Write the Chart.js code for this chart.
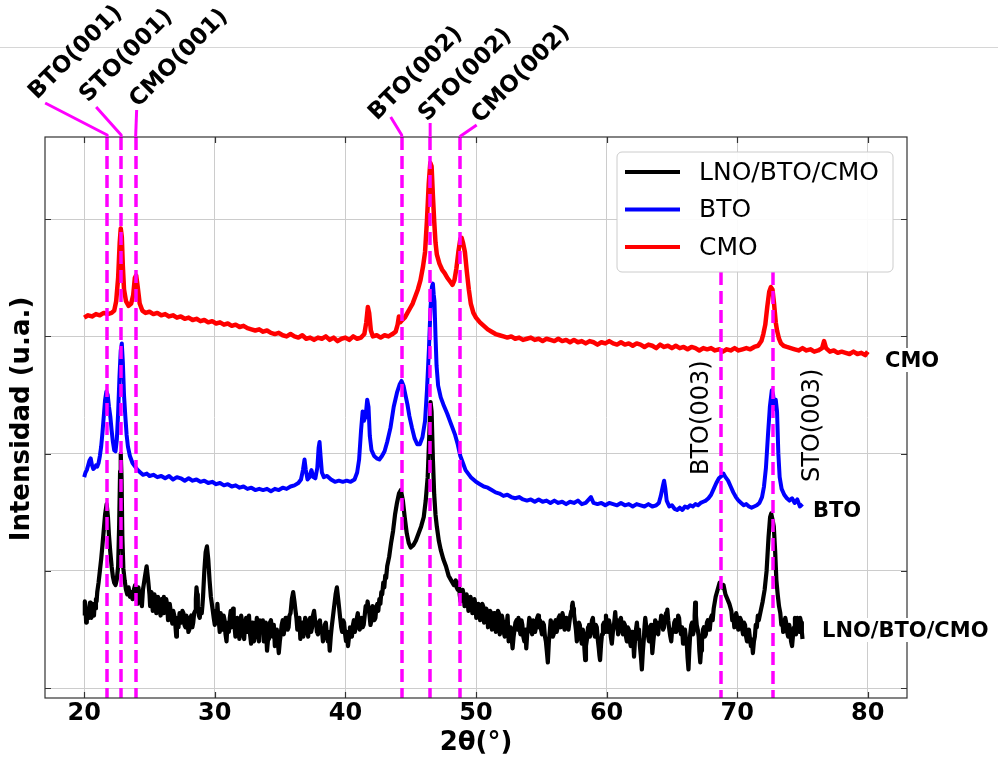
<!DOCTYPE html>
<html>
<head>
<meta charset="utf-8">
<script src="https://cdn.jsdelivr.net/npm/chart.js@4.4.1/dist/chart.umd.min.js"></script>
<style>
  html, body { margin: 0; padding: 0; background: #ffffff; }
  canvas { display: block; }
</style>
</head>
<body>
<canvas id="xrd" width="998" height="760"></canvas>
<script>
// Diffraction patterns: [2θ (deg), intensity (offset, arbitrary units)]
const lnoBtoCmo = [
  [20.0,62],[20.05,74],[20.1,70],[20.15,56],[20.2,58],[20.25,68],[20.3,66],[20.38,60],[20.45,73],[20.5,64],
  [20.55,60],[20.62,72],[20.7,66],[20.75,62],[20.8,72],[20.85,68],[20.9,76],[20.95,74],[21.0,82],
  [21.1,90],[21.2,100],[21.3,110],[21.4,122],[21.5,135],[21.6,148],[21.72,157],[21.82,146],[21.9,130],[22.0,116],
  [22.1,104],[22.2,95],[22.3,90],[22.4,88],[22.5,93],[22.6,104],[22.68,140],[22.75,185],[22.8,200],[22.86,180],
  [22.92,130],[23.0,102],[23.1,92],[23.2,84],[23.3,80],[23.4,86],[23.5,78],[23.6,82],[23.7,76],[23.8,84],
  [23.9,88],[24.0,80],[24.05,72],[24.1,76],[24.15,86],[24.2,82],[24.28,74],[24.35,78],[24.42,70],[24.5,84],
  [24.65,95],[24.78,104],[24.9,92],[25.0,80],[25.05,70],[25.1,74],[25.15,82],[25.2,80],[25.25,66],[25.3,70],
  [25.38,80],[25.45,76],[25.52,64],[25.6,68],[25.65,78],[25.7,74],[25.78,66],[25.85,62],[25.92,76],[26.0,72],
  [26.05,64],[26.1,78],[26.15,70],[26.2,66],[26.28,76],[26.35,72],[26.42,58],[26.5,62],[26.55,72],[26.6,68],
  [26.68,60],[26.75,55],[26.82,66],[26.9,62],[26.98,54],[27.05,44],[27.1,56],[27.15,60],[27.22,52],[27.3,64],
  [27.38,58],[27.45,56],[27.52,66],[27.6,64],[27.68,54],[27.75,52],[27.82,62],[27.9,58],[27.98,48],[28.05,50],
  [28.12,60],[28.2,62],[28.28,52],[28.35,56],[28.42,64],[28.5,66],[28.55,76],[28.6,86],[28.65,80],[28.7,70],
  [28.78,62],[28.85,60],[28.92,68],[29.0,64],[29.05,70],[29.1,78],[29.2,100],[29.3,116],[29.4,121],[29.5,110],
  [29.6,92],[29.7,78],[29.85,66],[29.92,60],[30.0,54],[30.05,66],[30.1,62],[30.15,56],[30.2,72],[30.25,64],
  [30.3,58],[30.38,48],[30.45,64],[30.52,56],[30.6,50],[30.68,62],[30.75,58],[30.82,46],[30.9,40],[30.95,50],
  [31.0,56],[31.08,48],[31.15,60],[31.22,66],[31.3,52],[31.35,58],[31.4,68],[31.45,60],[31.5,54],[31.58,44],
  [31.65,48],[31.72,60],[31.8,58],[31.88,42],[31.95,48],[32.02,62],[32.1,56],[32.18,46],[32.25,42],[32.32,54],
  [32.4,60],[32.48,48],[32.55,54],[32.62,62],[32.7,46],[32.78,38],[32.85,56],[32.92,50],[33.0,40],[33.08,48],
  [33.15,52],[33.22,60],[33.3,46],[33.38,40],[33.45,58],[33.52,52],[33.6,50],[33.68,58],[33.75,40],[33.82,48],
  [33.9,56],[33.95,44],[34.0,32],[34.08,42],[34.15,48],[34.22,56],[34.3,58],[34.38,50],[34.45,44],[34.52,54],
  [34.6,36],[34.68,44],[34.75,50],[34.82,40],[34.9,30],[34.98,40],[35.05,46],[35.12,54],[35.2,58],[35.28,46],
  [35.35,52],[35.42,60],[35.5,60],[35.58,50],[35.65,52],[35.72,62],[35.8,64],[35.9,76],[36.0,82],[36.1,74],
  [36.18,66],[36.25,60],[36.32,50],[36.4,52],[36.48,60],[36.55,42],[36.62,50],[36.7,56],[36.78,44],[36.85,48],
  [36.92,60],[37.0,58],[37.08,50],[37.15,44],[37.22,54],[37.3,60],[37.38,48],[37.45,52],[37.52,62],[37.6,66],
  [37.68,58],[37.75,56],[37.82,48],[37.9,46],[37.98,54],[38.05,58],[38.12,48],[38.2,50],[38.28,40],[38.35,44],
  [38.42,54],[38.5,56],[38.58,46],[38.65,40],[38.72,48],[38.8,32],[38.88,44],[38.95,52],[39.1,66],[39.25,80],
  [39.35,86],[39.45,76],[39.6,60],[39.68,52],[39.75,48],[39.82,58],[39.9,56],[39.98,46],[40.05,40],[40.12,48],
  [40.2,36],[40.28,44],[40.35,52],[40.42,46],[40.5,44],[40.58,54],[40.65,58],[40.72,48],[40.8,52],[40.88,60],
  [40.95,64],[41.02,56],[41.1,50],[41.18,58],[41.25,60],[41.32,52],[41.4,54],[41.48,62],[41.55,70],[41.62,66],
  [41.7,74],[41.78,68],[41.85,62],[41.92,54],[42.0,58],[42.08,70],[42.15,66],[42.22,58],[42.3,60],[42.38,70],
  [42.45,72],[42.52,66],[42.6,76],[42.68,72],[42.75,82],[42.82,80],[42.9,90],[42.98,86],[43.05,96],[43.12,94],
  [43.2,104],[43.35,112],[43.5,124],[43.65,134],[43.8,148],[43.95,158],[44.1,166],[44.25,169],[44.4,160],[44.55,145],
  [44.7,132],[44.85,124],[45.0,120],[45.2,122],[45.4,126],[45.6,132],[45.8,138],[46.0,146],[46.15,160],[46.3,180],
  [46.42,215],[46.52,244],[46.6,236],[46.7,195],[46.8,165],[46.9,148],[47.0,138],[47.15,126],[47.3,118],[47.5,110],
  [47.7,104],[47.9,96],[48.1,92],[48.3,88],[48.45,92],[48.52,86],[48.6,84],[48.68,90],[48.75,80],[48.82,74],
  [48.9,76],[48.98,84],[49.05,80],[49.12,70],[49.2,72],[49.28,80],[49.35,76],[49.42,66],[49.5,70],[49.58,78],
  [49.65,74],[49.72,64],[49.8,68],[49.88,76],[49.95,72],[50.02,60],[50.1,62],[50.18,72],[50.25,68],[50.32,58],
  [50.4,64],[50.48,72],[50.55,70],[50.62,56],[50.7,60],[50.78,68],[50.85,66],[50.92,52],[51.0,58],[51.08,66],
  [51.15,64],[51.22,50],[51.3,54],[51.38,64],[51.45,62],[51.52,48],[51.6,56],[51.68,66],[51.75,64],[51.82,46],
  [51.9,50],[51.98,62],[52.05,58],[52.12,48],[52.2,44],[52.28,56],[52.35,54],[52.42,62],[52.5,40],[52.58,48],
  [52.65,52],[52.72,44],[52.8,34],[52.88,44],[52.95,50],[53.02,56],[53.1,58],[53.18,50],[53.25,60],[53.32,52],
  [53.4,46],[53.48,58],[53.55,54],[53.62,44],[53.7,40],[53.78,50],[53.85,34],[53.92,46],[54.0,50],[54.08,60],
  [54.15,58],[54.22,50],[54.3,46],[54.38,58],[54.45,56],[54.52,48],[54.6,52],[54.68,60],[54.75,62],[54.82,52],
  [54.9,58],[54.98,50],[55.05,46],[55.12,56],[55.2,54],[55.28,44],[55.35,40],[55.42,32],[55.5,22],[55.58,40],
  [55.65,48],[55.72,58],[55.8,54],[55.88,44],[55.95,46],[56.02,56],[56.1,58],[56.18,48],[56.25,52],[56.32,60],
  [56.4,62],[56.48,52],[56.55,56],[56.62,64],[56.7,60],[56.78,50],[56.85,52],[56.92,60],[57.0,58],[57.08,50],
  [57.15,56],[57.22,62],[57.3,66],[57.35,70],[57.4,73],[57.45,68],[57.5,64],[57.58,56],[57.65,50],[57.72,40],
  [57.8,44],[57.88,56],[57.95,54],[58.02,44],[58.1,38],[58.18,50],[58.25,46],[58.3,34],[58.36,24],[58.42,36],
  [58.5,42],[58.58,52],[58.65,54],[58.72,44],[58.8,50],[58.88,58],[58.95,60],[59.02,50],[59.1,44],[59.18,54],
  [59.25,52],[59.32,42],[59.4,34],[59.45,28],[59.5,24],[59.58,38],[59.65,46],[59.72,54],[59.8,56],[59.88,48],
  [59.95,62],[60.02,54],[60.1,48],[60.18,58],[60.25,54],[60.32,44],[60.4,38],[60.48,48],[60.55,52],[60.6,58],
  [60.66,65],[60.72,56],[60.8,58],[60.88,46],[60.95,50],[61.02,58],[61.1,60],[61.18,50],[61.25,46],[61.32,56],
  [61.4,54],[61.48,44],[61.55,40],[61.62,52],[61.7,50],[61.78,40],[61.85,36],[61.92,48],[62.0,48],[62.05,38],
  [62.1,27],[62.18,42],[62.25,50],[62.32,56],[62.4,44],[62.48,50],[62.55,36],[62.62,28],[62.7,16],[62.78,32],
  [62.85,42],[62.9,52],[62.96,60],[63.02,54],[63.1,52],[63.18,44],[63.25,40],[63.32,50],[63.4,54],[63.45,42],
  [63.5,30],[63.58,40],[63.65,48],[63.72,58],[63.8,56],[63.88,48],[63.95,46],[64.02,56],[64.1,54],[64.18,62],
  [64.25,60],[64.32,50],[64.4,52],[64.48,60],[64.55,64],[64.6,62],[64.65,67],[64.72,58],[64.8,50],[64.88,44],
  [64.95,40],[65.02,50],[65.1,48],[65.18,56],[65.25,58],[65.32,48],[65.4,52],[65.48,62],[65.55,60],[65.62,50],
  [65.7,46],[65.78,52],[65.85,38],[65.92,46],[66.0,50],[66.08,42],[66.15,36],[66.2,26],[66.27,16],[66.33,32],
  [66.4,46],[66.48,54],[66.55,56],[66.62,46],[66.7,50],[66.74,62],[66.78,73],[66.84,62],[66.9,54],[66.98,50],
  [67.05,44],[67.1,32],[67.17,22],[67.23,32],[67.3,40],[67.38,50],[67.45,52],[67.52,44],[67.6,46],[67.68,56],
  [67.75,58],[67.82,50],[67.9,50],[67.98,60],[68.05,62],[68.12,58],[68.2,68],[68.35,78],[68.5,84],[68.65,90],
  [68.8,86],[68.95,88],[69.1,80],[69.25,76],[69.4,72],[69.55,66],[69.62,58],[69.7,62],[69.78,52],[69.85,56],
  [69.92,64],[70.0,60],[70.08,50],[70.15,52],[70.22,60],[70.3,58],[70.38,50],[70.45,46],[70.52,56],[70.6,54],
  [70.68,44],[70.75,40],[70.82,48],[70.9,50],[70.98,42],[71.05,36],[71.12,40],[71.2,30],[71.28,40],[71.35,44],
  [71.42,54],[71.5,52],[71.58,62],[71.65,58],[71.8,66],[71.95,74],[72.1,84],[72.25,100],[72.4,129],[72.52,146],
  [72.6,149],[72.7,144],[72.8,138],[72.9,118],[73.0,92],[73.1,80],[73.2,70],[73.3,64],[73.38,54],[73.45,58],
  [73.52,48],[73.6,50],[73.68,60],[73.75,56],[73.82,48],[73.9,44],[73.98,54],[74.05,50],[74.12,40],[74.2,36],
  [74.28,46],[74.35,52],[74.42,60],[74.5,46],[74.55,54],[74.6,60],[74.68,52],[74.75,48],[74.82,60],[74.9,56],
  [74.95,48],[75.0,42]
];

const bto = [
  [20.0,180],[20.1,184],[20.2,186],[20.3,190],[20.4,194],[20.5,196],[20.6,190],[20.7,187],[20.8,188],[20.9,190],
  [21.0,189],[21.1,192],[21.2,198],[21.3,206],[21.4,218],[21.5,232],[21.6,246],[21.7,253],[21.8,250],[21.9,240],
  [22.0,232],[22.1,220],[22.2,210],[22.3,203],[22.4,202],[22.5,212],[22.6,235],[22.7,265],[22.8,288],[22.88,294],
  [22.96,278],[23.05,250],[23.15,232],[23.25,216],[23.35,206],[23.5,198],[23.7,192],[23.9,189],[24.1,186],[24.3,184],
  [24.5,182],[24.8,183],[25.0,181],[25.3,182],[25.6,180],[25.9,181],[26.2,179],[26.5,181],[26.8,178],[27.1,180],
  [27.4,179],[27.7,177],[28.0,179],[28.3,177],[28.6,178],[28.9,176],[29.2,177],[29.5,175],[29.8,176],[30.1,174],
  [30.4,175],[30.7,173],[31.0,174],[31.3,172],[31.6,173],[31.9,171],[32.2,172],[32.5,170],[32.8,171],[33.1,169],
  [33.4,170],[33.7,169],[34.0,170],[34.3,168],[34.6,170],[34.9,169],[35.2,171],[35.5,170],[35.8,172],[36.1,173],
  [36.4,175],[36.6,178],[36.75,186],[36.87,195],[36.97,186],[37.1,178],[37.25,180],[37.4,186],[37.55,180],[37.7,179],
  [37.85,188],[37.95,205],[38.02,210],[38.1,198],[38.2,184],[38.35,180],[38.6,181],[38.9,178],[39.2,176],[39.5,177],
  [39.8,176],[40.1,177],[40.4,176],[40.7,178],[40.9,184],[41.05,195],[41.2,220],[41.32,236],[41.42,228],[41.55,232],
  [41.67,246],[41.77,240],[41.87,215],[42.0,203],[42.2,198],[42.4,196],[42.6,195],[42.8,198],[43.0,202],[43.2,210],
  [43.45,222],[43.7,240],[43.95,252],[44.15,259],[44.3,262],[44.45,258],[44.6,250],[44.75,242],[44.9,232],[45.1,222],
  [45.3,213],[45.5,208],[45.7,208],[45.9,214],[46.1,228],[46.25,255],[46.4,290],[46.52,325],[46.62,342],[46.7,345],
  [46.76,336],[46.82,330],[46.9,300],[46.98,275],[47.1,258],[47.3,248],[47.5,242],[47.8,234],[48.0,228],[48.2,222],
  [48.4,216],[48.6,208],[48.8,198],[49.0,192],[49.2,186],[49.4,183],[49.6,180],[49.8,178],[50.0,176],[50.3,174],
  [50.6,172],[50.9,171],[51.2,169],[51.5,167],[51.8,166],[52.1,164],[52.4,165],[52.7,163],[53.0,162],[53.3,163],
  [53.6,161],[53.9,160],[54.2,161],[54.5,159],[54.8,161],[55.1,159],[55.4,160],[55.7,158],[56.0,160],[56.3,158],
  [56.6,159],[56.9,157],[57.2,159],[57.5,158],[57.8,160],[58.1,157],[58.4,158],[58.8,163],[59.0,158],[59.3,157],
  [59.6,158],[59.9,156],[60.2,158],[60.5,157],[60.8,156],[61.1,158],[61.4,156],[61.7,157],[62.0,155],[62.3,157],
  [62.6,156],[62.9,155],[63.2,157],[63.5,155],[63.8,156],[64.0,158],[64.15,164],[64.3,172],[64.4,177],[64.5,170],
  [64.6,160],[64.8,155],[65.0,156],[65.2,153],[65.4,152],[65.6,154],[65.8,152],[66.0,155],[66.2,154],[66.4,156],
  [66.6,155],[66.8,157],[67.0,156],[67.2,158],[67.4,159],[67.6,160],[67.8,162],[68.0,165],[68.2,170],[68.4,175],
  [68.6,179],[68.8,181],[68.95,183],[69.1,180],[69.3,177],[69.5,172],[69.7,167],[69.9,163],[70.1,160],[70.3,158],
  [70.5,156],[70.7,157],[70.9,155],[71.1,154],[71.3,155],[71.5,156],[71.7,158],[71.9,163],[72.05,172],[72.2,188],
  [72.35,215],[72.5,240],[72.65,254],[72.75,250],[72.85,238],[72.95,246],[73.05,236],[73.15,200],[73.25,180],[73.4,170],
  [73.6,165],[73.8,162],[74.0,160],[74.2,162],[74.4,158],[74.6,161],[74.8,155],[75.0,157]
];

const cmo = [
  [20.0,316],[20.3,318],[20.6,317],[20.9,319],[21.2,318],[21.5,320],[21.8,319],[22.1,320],[22.3,322],[22.45,330],
  [22.6,350],[22.72,380],[22.8,392],[22.88,385],[22.96,360],[23.05,340],[23.2,330],[23.4,326],[23.6,328],[23.75,335],
  [23.88,350],[23.98,352],[24.1,342],[24.25,328],[24.45,322],[24.7,320],[25.0,321],[25.3,319],[25.6,320],[25.9,318],
  [26.2,319],[26.5,317],[26.8,318],[27.1,316],[27.4,317],[27.7,315],[28.0,316],[28.3,314],[28.6,315],[28.9,313],
  [29.2,314],[29.5,312],[29.8,313],[30.1,311],[30.4,312],[30.7,310],[31.0,311],[31.3,309],[31.6,310],[31.9,308],
  [32.2,309],[32.5,307],[32.8,306],[33.1,305],[33.4,306],[33.7,304],[34.0,305],[34.3,303],[34.6,302],[34.9,303],
  [35.2,301],[35.5,300],[35.8,302],[36.1,300],[36.4,299],[36.7,301],[37.0,298],[37.3,299],[37.6,297],[37.9,299],
  [38.2,298],[38.5,300],[38.8,297],[39.1,299],[39.4,296],[39.7,298],[40.0,299],[40.3,297],[40.6,300],[40.9,298],
  [41.2,299],[41.45,302],[41.6,312],[41.72,325],[41.82,320],[41.95,305],[42.1,300],[42.4,301],[42.7,299],[43.0,301],
  [43.3,300],[43.6,302],[43.85,304],[44.0,310],[44.1,317],[44.2,312],[44.35,314],[44.55,316],[44.75,320],[44.95,324],
  [45.15,328],[45.35,334],[45.55,340],[45.75,348],[45.95,360],[46.1,372],[46.25,400],[46.38,430],[46.5,448],[46.6,445],
  [46.7,420],[46.8,398],[46.9,380],[47.0,370],[47.2,362],[47.4,357],[47.6,354],[47.8,350],[48.0,347],[48.2,344],
  [48.35,348],[48.5,358],[48.65,372],[48.8,383],[48.9,384],[49.0,380],[49.15,372],[49.3,355],[49.45,340],[49.6,328],
  [49.8,320],[50.0,316],[50.3,312],[50.6,309],[50.9,306],[51.2,304],[51.5,302],[51.8,301],[52.1,300],[52.4,299],
  [52.7,300],[53.0,298],[53.3,299],[53.6,297],[53.9,298],[54.2,299],[54.5,297],[54.8,298],[55.1,296],[55.4,298],
  [55.7,297],[56.0,296],[56.3,298],[56.6,296],[56.9,297],[57.2,295],[57.5,297],[57.8,295],[58.1,296],[58.4,294],
  [58.7,296],[59.0,295],[59.3,293],[59.6,295],[59.9,294],[60.2,296],[60.5,294],[60.8,293],[61.1,295],[61.4,293],
  [61.7,294],[62.0,292],[62.3,294],[62.6,293],[62.9,291],[63.2,293],[63.5,292],[63.8,290],[64.1,293],[64.4,291],
  [64.7,292],[65.0,290],[65.3,292],[65.6,290],[65.9,291],[66.2,289],[66.5,291],[66.8,290],[67.1,288],[67.4,290],
  [67.7,289],[68.0,290],[68.3,288],[68.6,289],[68.9,287],[69.2,289],[69.5,288],[69.8,290],[70.1,288],[70.4,289],
  [70.7,290],[71.0,289],[71.3,291],[71.6,292],[71.85,296],[72.0,302],[72.15,310],[72.3,325],[72.45,338],[72.58,342],
  [72.7,340],[72.82,328],[72.95,312],[73.05,305],[73.2,298],[73.35,294],[73.55,292],[73.8,291],[74.1,290],[74.4,289],
  [74.7,288],[75.0,290],[75.3,288],[75.6,289],[75.9,287],[76.2,288],[76.5,290],[76.65,296],[76.8,290],[77.1,287],
  [77.4,288],[77.7,286],[78.0,287],[78.3,286],[78.6,285],[78.9,287],[79.2,285],[79.5,286],[79.8,284],[80.0,287]
];

const seriesNames = ['LNO/BTO/CMO', 'BTO', 'CMO'];
const seriesColors = ['#000000', '#0000ff', '#ff0000'];
const seriesWidths = [4.2, 4, 4.5];

// Reflection markers (2θ positions) and their labels
const reflectionNames = ['BTO(001)', 'STO(001)', 'CMO(001)', 'BTO(002)', 'STO(002)', 'CMO(002)', 'BTO(003)', 'STO(003)'];
const reflectionAngles = [21.76, 22.83, 23.94, 44.31, 46.49, 48.75, 68.77, 72.75];

const xTicks = [20, 30, 40, 50, 60, 70, 80];
const yTicks = [0, 100, 200, 300, 400];

// ---- drawing helpers ----
const MAGENTA = '#ff00ff';

// Leader and text placement for the labels above the frame (pixels)
const topLabelLayout = [
  { bend: [[0, -2], [-62, -34]], text: [37, 100] },
  { bend: [[0, -2], [-25, -30]], text: [88, 103] },
  { bend: [[1, -27]],            text: [138, 108] },
  { bend: [[0, -2], [-11, -20]], text: [377, 121] },
  { bend: [[0, -14]],            text: [427, 122] },
  { bend: [[1, -1], [17, -12]],  text: [480, 124] }
];
const sideLabelLayout = [
  { text: [708, 475] },
  { text: [819, 482] }
];
const traceTags = [
  { name: 'CMO', at: [885, 367] },
  { name: 'BTO', at: [813, 517] },
  { name: 'LNO/BTO/CMO', at: [822, 637] }
];

const decorations = {
  id: 'decorations',
  beforeDraw(chart) {
    const c = chart.ctx;
    c.save();
    c.fillStyle = '#ffffff';
    c.fillRect(0, 0, chart.width, chart.height);
    c.strokeStyle = '#d6d6d6';
    c.lineWidth = 1;
    c.beginPath();
    c.moveTo(0, 47.5);
    c.lineTo(chart.width, 47.5);
    c.stroke();
    c.restore();
  },
  afterDatasetsDraw(chart) {
    const c = chart.ctx;
    const a = chart.chartArea;
    const xs = chart.scales.x;
    const ys = chart.scales.y;
    c.save();

    // dashed reflection markers
    c.strokeStyle = MAGENTA;
    c.lineWidth = 3.5;
    c.setLineDash([13, 6]);
    reflectionAngles.forEach((ang, i) => {
      const px = Math.round(xs.getPixelForValue(ang));
      const yTop = i >= 6 ? 272 : a.top;
      c.beginPath();
      c.moveTo(px, yTop);
      c.lineTo(px, a.bottom);
      c.stroke();
    });
    c.setLineDash([]);

    // frame and inward ticks
    c.strokeStyle = '#333333';
    c.lineWidth = 1.2;
    c.strokeRect(a.left, a.top, a.right - a.left, a.bottom - a.top);
    c.beginPath();
    xTicks.forEach(v => {
      const px = Math.round(xs.getPixelForValue(v)) + 0.5;
      c.moveTo(px, a.bottom); c.lineTo(px, a.bottom - 6);
      c.moveTo(px, a.top); c.lineTo(px, a.top + 6);
    });
    yTicks.forEach(v => {
      const py = Math.round(ys.getPixelForValue(v)) + 0.5;
      c.moveTo(a.left, py); c.lineTo(a.left + 6, py);
      c.moveTo(a.right, py); c.lineTo(a.right - 6, py);
    });
    c.stroke();

    // labels above the frame with leader lines
    c.strokeStyle = MAGENTA;
    c.lineWidth = 3;
    c.lineJoin = 'round';
    topLabelLayout.forEach((lay, i) => {
      const px = xs.getPixelForValue(reflectionAngles[i]);
      c.beginPath();
      c.moveTo(px, a.top);
      lay.bend.forEach(([dx, dy]) => c.lineTo(px + dx, a.top + dy));
      c.stroke();
      c.save();
      c.translate(lay.text[0], lay.text[1]);
      c.rotate(-Math.PI / 4);
      c.fillStyle = '#000000';
      c.font = 'bold 23px "DejaVu Sans"';
      c.textAlign = 'left';
      c.textBaseline = 'alphabetic';
      c.fillText(reflectionNames[i], 0, 0);
      c.restore();
    });

    // vertical labels for the (003) reflections
    sideLabelLayout.forEach((lay, k) => {
      c.save();
      c.translate(lay.text[0], lay.text[1]);
      c.rotate(-Math.PI / 2);
      c.fillStyle = '#000000';
      c.font = '24px "DejaVu Sans"';
      c.textAlign = 'left';
      c.textBaseline = 'alphabetic';
      c.fillText(reflectionNames[6 + k], 0, 0);
      c.restore();
    });

    // legend box
    const lx = 617, ly = 152, lw = 276, lh = 120;
    c.beginPath();
    c.roundRect(lx, ly, lw, lh, 5);
    c.fillStyle = 'rgba(255,255,255,0.92)';
    c.fill();
    c.strokeStyle = '#cccccc';
    c.lineWidth = 1;
    c.stroke();
    chart.data.datasets.forEach((ds, i) => {
      const yy = 172 + i * 37.5;
      c.strokeStyle = ds.borderColor;
      c.lineWidth = 4;
      c.beginPath();
      c.moveTo(625, yy);
      c.lineTo(680, yy);
      c.stroke();
      c.fillStyle = '#000000';
      c.font = '25px "DejaVu Sans"';
      c.textAlign = 'left';
      c.textBaseline = 'middle';
      c.fillText(ds.label, 699, yy + 1);
    });

    // trace name tags at the right
    c.font = 'bold 21px "DejaVu Sans"';
    c.textAlign = 'left';
    c.textBaseline = 'alphabetic';
    traceTags.forEach(t => {
      const w = c.measureText(t.name).width;
      c.fillStyle = '#ffffff';
      c.fillRect(t.at[0] - 2, t.at[1] - 19, w + 4, 24);
      c.fillStyle = '#000000';
      c.fillText(t.name, t.at[0], t.at[1]);
    });

    // axis titles
    c.fillStyle = '#000000';
    c.font = 'bold 26px "DejaVu Sans"';
    c.textAlign = 'center';
    c.textBaseline = 'middle';
    c.fillText('2θ(°)', (a.left + a.right) / 2, 743);
    c.save();
    c.translate(22, 419);
    c.rotate(-Math.PI / 2);
    c.fillText('Intensidad (u.a.)', 0, 0);
    c.restore();

    c.restore();
  }
};

const toPoints = arr => arr.map(([x, y]) => ({ x, y }));
const seriesData = [lnoBtoCmo, bto, cmo];

new Chart(document.getElementById('xrd'), {
  type: 'line',
  data: {
    datasets: seriesData.map((arr, i) => ({
      label: seriesNames[i],
      data: toPoints(arr),
      borderColor: seriesColors[i],
      backgroundColor: seriesColors[i],
      borderWidth: seriesWidths[i],
      pointRadius: 0,
      tension: 0,
      fill: false,
      borderJoinStyle: 'round'
    }))
  },
  options: {
    responsive: false,
    animation: false,
    layout: { padding: { left: 0, top: 137, right: 91, bottom: 0 } },
    plugins: { legend: { display: false }, tooltip: { enabled: false } },
    scales: {
      x: {
        type: 'linear',
        min: 17,
        max: 83,
        afterBuildTicks: s => { s.ticks = xTicks.map(v => ({ value: v })); },
        afterFit: s => { s.height = 62; },
        border: { display: false },
        grid: { color: '#cccccc', lineWidth: 1, drawTicks: false },
        ticks: {
          color: '#000000',
          padding: 1,
          maxRotation: 0,
          font: { family: 'DejaVu Sans', size: 24, weight: 'bold' }
        }
      },
      y: {
        type: 'linear',
        min: -8.3,
        max: 470,
        afterBuildTicks: s => { s.ticks = yTicks.map(v => ({ value: v })); },
        afterFit: s => { s.width = 45; },
        border: { display: false },
        grid: { color: '#cccccc', lineWidth: 1, drawTicks: false },
        ticks: { display: false }
      }
    }
  },
  plugins: [decorations]
});
</script>
</body>
</html>
